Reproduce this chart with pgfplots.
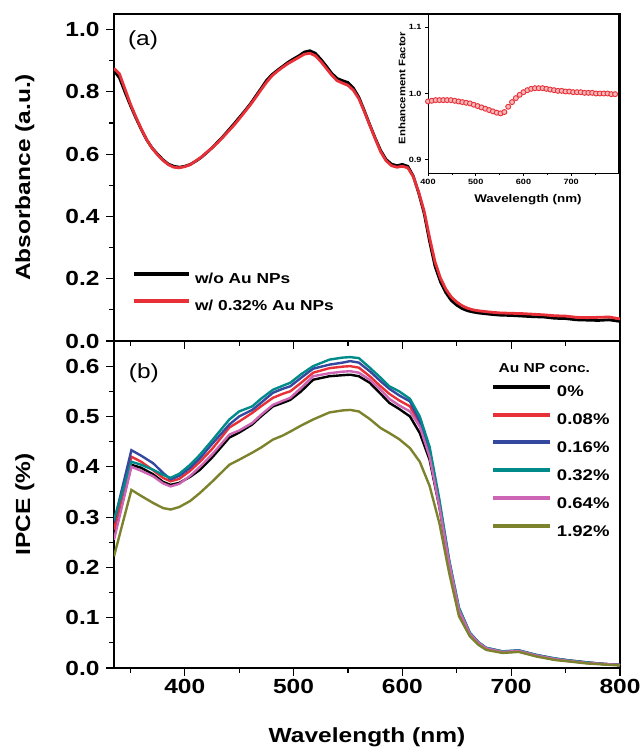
\documentclass[border=0pt]{standalone}
\usepackage{pgfplots}
\pgfplotsset{compat=1.18}
\usepackage{pgfplotstable}
\usepackage{fontspec}
\setmainfont{Liberation Sans}[FakeStretch=1.2]

\definecolor{cred}{RGB}{232,48,56}
\definecolor{cblue}{RGB}{52,72,160}
\definecolor{cteal}{RGB}{0,138,138}
\definecolor{cpink}{RGB}{205,100,180}
\definecolor{colive}{RGB}{125,130,45}

\pgfplotstableread{
lam blk red
335 0.868 0.875
340 0.845 0.858
345 0.800 0.810
350 0.757 0.762
355 0.717 0.720
360 0.680 0.682
365 0.646 0.647
370 0.620 0.619
375 0.600 0.598
380 0.582 0.580
385 0.568 0.566
390 0.561 0.558
395 0.558 0.556
400 0.561 0.560
405 0.567 0.566
410 0.577 0.578
415 0.589 0.590
420 0.604 0.605
425 0.620 0.620
430 0.638 0.636
435 0.656 0.654
440 0.676 0.673
445 0.696 0.692
450 0.717 0.713
455 0.738 0.735
460 0.760 0.757
465 0.785 0.781
470 0.810 0.806
475 0.836 0.830
480 0.855 0.851
485 0.869 0.866
490 0.882 0.879
495 0.895 0.891
500 0.906 0.901
505 0.916 0.911
510 0.928 0.921
515 0.932 0.924
520 0.924 0.916
525 0.905 0.898
530 0.883 0.876
535 0.860 0.854
540 0.843 0.836
545 0.836 0.828
550 0.830 0.821
555 0.812 0.805
560 0.783 0.778
565 0.740 0.737
570 0.695 0.693
575 0.652 0.650
580 0.612 0.608
585 0.583 0.579
590 0.568 0.563
595 0.563 0.558
600 0.567 0.561
605 0.561 0.556
610 0.530 0.528
615 0.475 0.478
620 0.410 0.417
625 0.320 0.332
630 0.240 0.254
635 0.190 0.202
640 0.155 0.166
645 0.130 0.141
650 0.115 0.125
655 0.104 0.113
660 0.097 0.105
665 0.093 0.100
670 0.090 0.097
680 0.086 0.093
690 0.083 0.090
700 0.082 0.089
710 0.080 0.088
720 0.078 0.086
730 0.077 0.084
740 0.073 0.081
750 0.072 0.080
760 0.068 0.076
770 0.067 0.075
780 0.066 0.076
790 0.068 0.077
800 0.063 0.071
}\absdata

\pgfplotstableread{
lam s0 s008 s016 s032 s064 s192
335 0.260 0.275 0.290 0.295 0.255 0.222
351 0.404 0.420 0.433 0.410 0.400 0.354
360 0.398 0.410 0.422 0.404 0.392 0.342
371 0.385 0.393 0.407 0.394 0.381 0.328
380 0.370 0.378 0.388 0.384 0.367 0.318
387 0.364 0.371 0.375 0.378 0.361 0.315
395 0.368 0.376 0.382 0.386 0.366 0.320
405 0.380 0.392 0.398 0.404 0.382 0.332
414 0.394 0.410 0.417 0.424 0.400 0.348
425 0.418 0.435 0.445 0.452 0.424 0.370
441 0.458 0.478 0.484 0.494 0.464 0.404
450 0.468 0.490 0.500 0.510 0.472 0.414
462 0.484 0.507 0.513 0.520 0.487 0.428
470 0.500 0.520 0.527 0.535 0.503 0.438
481 0.520 0.537 0.547 0.553 0.523 0.454
490 0.527 0.545 0.555 0.561 0.531 0.462
497 0.533 0.550 0.560 0.567 0.537 0.470
507 0.550 0.567 0.577 0.584 0.557 0.482
518 0.573 0.587 0.595 0.600 0.580 0.494
533 0.580 0.596 0.603 0.613 0.586 0.508
545 0.582 0.599 0.607 0.617 0.589 0.512
552 0.583 0.600 0.610 0.618 0.590 0.513
560 0.580 0.597 0.607 0.616 0.587 0.510
570 0.567 0.580 0.590 0.597 0.573 0.495
580 0.545 0.560 0.570 0.577 0.553 0.477
588 0.527 0.545 0.555 0.560 0.535 0.467
597 0.515 0.532 0.542 0.550 0.522 0.455
607 0.500 0.520 0.530 0.535 0.510 0.437
616 0.467 0.485 0.490 0.500 0.480 0.410
625 0.414 0.425 0.430 0.440 0.420 0.362
634 0.320 0.325 0.330 0.335 0.321 0.288
643 0.205 0.210 0.212 0.215 0.209 0.189
652 0.112 0.115 0.118 0.120 0.115 0.103
662 0.066 0.068 0.070 0.070 0.068 0.063
670 0.048 0.050 0.051 0.051 0.050 0.046
677 0.038 0.039 0.040 0.040 0.039 0.036
692 0.031 0.032 0.033 0.033 0.032 0.030
707 0.033 0.034 0.035 0.035 0.034 0.032
723 0.024 0.025 0.026 0.026 0.025 0.023
740 0.017 0.018 0.019 0.019 0.018 0.016
753 0.014 0.015 0.015 0.015 0.014 0.013
770 0.010 0.011 0.011 0.011 0.010 0.009
785 0.008 0.008 0.008 0.008 0.008 0.007
800 0.006 0.006 0.006 0.006 0.006 0.005
}\ipcedata

\pgfplotstableread{
lam ef
400 0.988
408 0.989
416 0.990
424 0.990
432 0.990
440 0.990
448 0.990
456 0.989
464 0.988
472 0.987
480 0.986
488 0.985
496 0.983
504 0.981
512 0.979
520 0.977
528 0.975
536 0.973
544 0.971
552 0.970
560 0.972
568 0.980
576 0.987
584 0.993
592 0.998
600 1.002
608 1.005
616 1.007
624 1.008
632 1.008
640 1.008
648 1.007
656 1.006
664 1.005
672 1.004
680 1.004
688 1.003
696 1.003
704 1.002
712 1.002
720 1.002
728 1.001
736 1.001
744 1.001
752 1.000
760 1.000
768 1.000
776 1.000
784 0.999
792 0.999
}\efdata

\begin{document}
\begin{tikzpicture}
\useasboundingbox (-114bp,-410bp) rectangle (527bp,341bp);
\pgfplotsset{
  mainstyle/.style={
    scale only axis, width=506bp, height=327bp,
    xmin=335, xmax=800,
    axis line style={line width=1.2bp},
    every tick/.style={line width=1.1bp, black},
    major tick length=8bp, minor tick length=5bp,
    tick align=outside, xtick pos=left, ytick pos=left,
    xtick={400,500,600,700,800}, minor xtick={350,450,550,650,750},
    /pgf/number format/assume math mode=true,
    tick label style={font=\fontsize{20.5}{22}\selectfont\bfseries},
    label style={font=\fontsize{20.5}{24}\selectfont\bfseries},
    ylabel style={at={(axis description cs:-0.176,0.5)}, anchor=center},
    yticklabel style={xshift=-3bp, /pgf/number format/.cd, fixed, fixed zerofill, precision=1},
  }
}
% ---------- panel (a)
\begin{axis}[mainstyle, at={(0bp,0bp)}, anchor=south west,
  ymin=0, ymax=1.05, ytick={0,0.2,0.4,0.6,0.8,1.0}, minor y tick num=1,
  xticklabels={},
  ylabel={Absorbance (a.u.)},
  legend image code/.code={\draw[#1, line width=4bp] (0bp,5bp) -- (55bp,5bp);},
  legend cell align=left,
  legend style={draw=none, fill=none, inner sep=0pt, outer sep=0pt,
    at={(axis description cs:0.0356,0.21)}, anchor=north west,
    row sep=14bp, column sep=4bp, nodes={inner sep=0pt},
    font=\fontsize{14.5}{16}\selectfont\bfseries},
]
\addplot[black, line width=2.8bp] table[x=lam, y=blk] {\absdata};
\addlegendentry{w/o Au NPs}
\addplot[cred, line width=2.8bp] table[x=lam, y=red] {\absdata};
\addlegendentry{w/ 0.32\% Au NPs}
\node[font=\fontsize{20.5}{22}\selectfont] at (axis description cs:0.0573,0.92) {(a)};
\end{axis}
% ---------- inset
\begin{axis}[at={(314bp,168bp)}, anchor=south west,
  scale only axis, width=190bp, height=159bp,
  xmin=400, xmax=798, ymin=0.88, ymax=1.12,
  axis background/.style={fill=white},
  axis line style={line width=0.9bp},
  every tick/.style={line width=0.7bp, black},
  major tick length=3bp, minor tick length=2bp,
  tick align=outside, xtick pos=left, ytick pos=left,
  xtick={400,500,600,700}, minor xtick={450,550,650,750},
  ytick={0.9,1.0,1.1},
  /pgf/number format/assume math mode=true,
  tick label style={font=\fontsize{7.6}{8}\selectfont\bfseries},
  yticklabel style={/pgf/number format/.cd, fixed, fixed zerofill, precision=1},
  xlabel={Wavelength (nm)},
  xlabel style={font=\fontsize{11.2}{12}\selectfont\bfseries, at={(axis description cs:0.526,-0.17)}, anchor=center},
  ylabel={Enhancement Factor},
  ylabel style={font=\fontsize{9.5}{10}\selectfont\bfseries, at={(axis description cs:-0.137,0.535)}, anchor=center},
]
\addplot[only marks, mark=*, mark size=2.5bp, mark options={draw=cred, fill=cred!35, line width=0.9bp}] table[x=lam, y=ef] {\efdata};
\end{axis}
% ---------- panel (b)
\begin{axis}[mainstyle, at={(0bp,0bp)}, anchor=north west,
  ymin=0, ymax=0.65, ytick={0,0.1,0.2,0.3,0.4,0.5,0.6}, minor y tick num=1,
  xlabel={Wavelength (nm)},
  xlabel style={at={(axis description cs:0.5,-0.211)}, anchor=center},
  ylabel={IPCE (\%)},
  legend image code/.code={\draw[#1, line width=4bp] (0bp,5.5bp) -- (57bp,5.5bp);},
  legend cell align=left,
  legend style={draw=none, fill=none, inner sep=0pt, outer sep=0pt,
    at={(axis description cs:0.745,0.866)}, anchor=north west,
    row sep=14.2bp, column sep=5bp, nodes={inner sep=0pt},
    font=\fontsize{15.5}{17}\selectfont\bfseries},
]
\addplot[black, line width=2.4bp] table[x=lam, y=s0] {\ipcedata};
\addlegendentry{0\%}
\addplot[cred, line width=2.4bp] table[x=lam, y=s008] {\ipcedata};
\addlegendentry{0.08\%}
\addplot[cblue, line width=2.4bp] table[x=lam, y=s016] {\ipcedata};
\addlegendentry{0.16\%}
\addplot[cteal, line width=2.4bp] table[x=lam, y=s032] {\ipcedata};
\addlegendentry{0.32\%}
\addplot[cpink, line width=2.4bp] table[x=lam, y=s064] {\ipcedata};
\addlegendentry{0.64\%}
\addplot[colive, line width=2.4bp] table[x=lam, y=s192] {\ipcedata};
\addlegendentry{1.92\%}
\node[font=\fontsize{20.5}{22}\selectfont] at (axis description cs:0.059,0.90) {(b)};
\node[font=\fontsize{13}{14}\selectfont\bfseries, anchor=west] at (axis description cs:0.753,0.918) {Au NP conc.};
\end{axis}
\end{tikzpicture}
\end{document}
